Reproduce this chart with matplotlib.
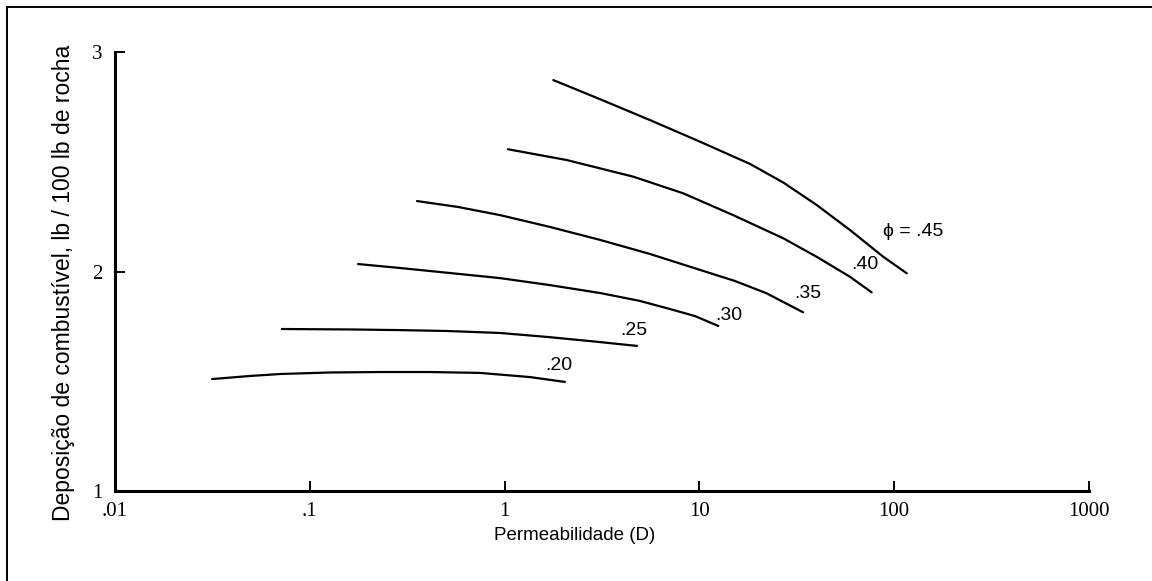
import numpy as np
import matplotlib
matplotlib.use("Agg")
import matplotlib.pyplot as plt
from matplotlib.lines import Line2D

plt.rcParams["axes.linewidth"] = 2.2
plt.rcParams["xtick.direction"] = 'in'
plt.rcParams["ytick.direction"] = 'in'
plt.rcParams["xtick.major.width"] = 1.4
plt.rcParams["ytick.major.width"] = 1.4

# permeability (D) and fuel deposition for each porosity curve
k20 = [0.0315, 0.0493, 0.0703, 0.127, 0.229, 0.414, 0.748, 1.35, 2.04]
d20 = [1.510, 1.524, 1.533, 1.540, 1.542, 1.542, 1.538, 1.519, 1.497]

k25 = [0.0719, 0.161, 0.290, 0.506, 0.946, 1.65, 2.97, 4.78]
d25 = [1.738, 1.736, 1.733, 1.729, 1.720, 1.702, 1.680, 1.661]

k30 = [0.177, 0.290, 0.525, 0.946, 1.71, 3.09, 4.95, 7.06, 9.49, 12.5]
d30 = [2.034, 2.016, 1.993, 1.970, 1.938, 1.902, 1.866, 1.829, 1.797, 1.752]

k35 = [0.355, 0.577, 0.946, 1.71, 3.09, 5.57, 10.1, 15.2, 22.1, 34.1]
d35 = [2.321, 2.294, 2.257, 2.203, 2.144, 2.080, 2.007, 1.957, 1.901, 1.814]

k40 = [1.04, 2.08, 4.58, 8.27, 14.9, 27.0, 40.0, 59.3, 76.6]
d40 = [2.557, 2.508, 2.432, 2.356, 2.257, 2.151, 2.067, 1.976, 1.905]

k45 = [1.78, 3.09, 5.57, 10.1, 18.2, 27.0, 40.0, 59.3, 87.9, 116]
d45 = [2.872, 2.785, 2.690, 2.591, 2.490, 2.405, 2.303, 2.189, 2.067, 1.992]

curve_labels = [".20", ".25", ".30", ".35", ".40", "ϕ = .45"]
label_k = [1.89, 4.58, 14.1, 36.2, 70.8, 125]
label_d = [1.57, 1.73, 1.80, 1.90, 2.03, 2.18]

xticks = [0.01, 0.1, 1, 10, 100, 1000]
xticklabels = [".01", ".1", "1", "10", "100", "1000"]
yticks = [1, 2, 3]

fig = plt.figure(figsize=(11.52, 5.81), dpi=100)
ax = fig.add_axes([0.0998, 0.1549, 0.8455, 0.7556])

for k, d in [(k20, d20), (k25, d25), (k30, d30), (k35, d35), (k40, d40), (k45, d45)]:
    ax.plot(k, d, color='black', linewidth=1.6, solid_capstyle='round',
            solid_joinstyle='round')

narrow = ['Liberation Sans Narrow', 'Liberation Sans', 'DejaVu Sans']
for i in range(len(curve_labels)):
    ax.text(label_k[i], label_d[i], curve_labels[i], ha='center', va='center',
            fontsize=14, family=narrow)

ax.set_xscale('log')
ax.set_xlim(0.01, 1000)
ax.set_ylim(1, 3)
ax.spines['top'].set_visible(False)
ax.spines['right'].set_visible(False)

ax.set_xticks(xticks)
ax.set_xticklabels(xticklabels, family='Liberation Serif', fontsize=15)
ax.xaxis.set_minor_locator(matplotlib.ticker.NullLocator())
ax.set_yticks(yticks)
ax.set_yticklabels([str(v) for v in yticks], family='Liberation Serif', fontsize=15)
ax.tick_params(axis='x', length=7, pad=8)
ax.tick_params(axis='y', length=7, pad=9)

ax.set_xlabel("Permeabilidade (D)", fontsize=13.5, family=narrow)
ax.xaxis.set_label_coords(0.472, -0.082)
ax.set_ylabel("Deposição de combustível, lb / 100 lb de rocha", fontsize=16.5,
              family=['Liberation Sans', 'DejaVu Sans'])
ax.yaxis.set_label_coords(-0.041, 0.474)

# frame edges along top and left
fig.add_artist(Line2D([0.006, 1.0], [0.988, 0.988], color='black', linewidth=1.4))
fig.add_artist(Line2D([0.006, 0.006], [0.0, 0.988], color='black', linewidth=1.4))

plt.savefig("out.png", dpi=100)
